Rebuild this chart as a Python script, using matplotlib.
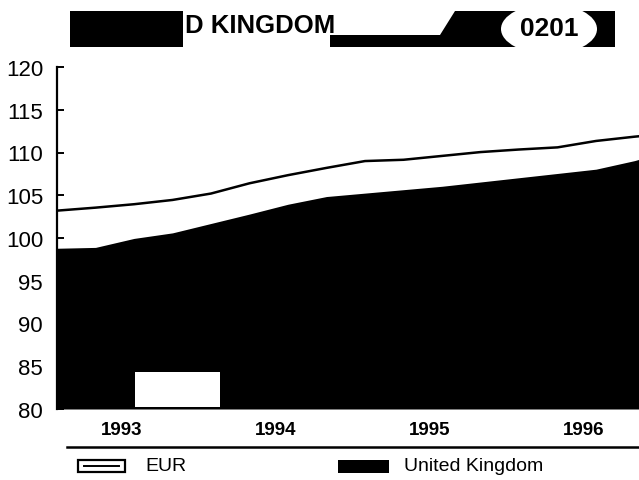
import matplotlib
matplotlib.use("Agg")
import matplotlib.pyplot as plt
from matplotlib.patches import Rectangle, Ellipse, Polygon

plt.rcParams['font.family'] = ['Liberation Sans', 'DejaVu Sans']

# ---------------- DATA ----------------
# decimal years, roughly quarterly (Feb 1993 .. Nov 1996)
t = [1993.083, 1993.333, 1993.583, 1993.833, 1994.083, 1994.333, 1994.583,
     1994.833, 1995.083, 1995.333, 1995.583, 1995.833, 1996.083, 1996.333,
     1996.583, 1996.833, 1996.862]
eur = [103.2, 103.55, 103.95, 104.45, 105.2, 106.4, 107.35, 108.2, 109.0,
       109.15, 109.6, 110.05, 110.35, 110.6, 111.35, 111.85, 111.9]
uk = [98.8, 98.9, 99.95, 100.6, 101.7, 102.8, 103.95, 104.85, 105.25,
      105.65, 106.05, 106.55, 107.05, 107.55, 108.05, 109.05, 109.2]
years = ["1993", "1994", "1995", "1996"]
year_pos = [1993.5, 1994.5, 1995.5, 1996.5]
yticks = [80, 85, 90, 95, 100, 105, 110, 115, 120]

# ---------------- FIGURE ----------------
W, H = 639, 481
fig = plt.figure(figsize=(W / 100, H / 100), dpi=100)
ax = fig.add_axes([57 / W, (H - 410) / H, (W - 57) / W, (410 - 68) / H])

ax.fill_between(t, uk, 80, color="black", lw=0)
ax.plot(t, eur, color="black", lw=1.8)

ax.set_xlim(t[0], t[-1])
ax.set_ylim(80, 120)
ax.set_yticks(yticks)
ax.set_xticks(year_pos)
ax.set_xticklabels(years, fontsize=13.5, fontweight="bold")
ax.tick_params(axis="y", direction="in", length=5, width=1.4, pad=10,
               labelsize=16)
ax.tick_params(axis="x", length=0, pad=9)
for s in ["top", "right", "bottom"]:
    ax.spines[s].set_visible(False)
ax.spines["left"].set_linewidth(1.6)

# ---------------- OVERLAY (header, legend, scan marks) ----------------
ov = fig.add_axes([0, 0, 1, 1], zorder=5)
ov.set_xlim(0, W)
ov.set_ylim(H, 0)
ov.axis("off")
ov.patch.set_alpha(0)

# header banner
ov.add_patch(Rectangle((70, 12), 113, 36, color="black", lw=0))
ov.text(185, 26, "D KINGDOM", fontsize=18.5, fontweight="bold",
        ha="left", va="center")
ov.add_patch(Polygon([(330, 36), (440, 36), (455, 12), (615, 12),
                      (615, 48), (330, 48)], closed=True, color="black", lw=0))
ov.add_patch(Ellipse((549, 30), 96, 50, color="white", lw=0))
ov.text(549, 29, "0201", fontsize=19, fontweight="bold",
        ha="center", va="center")

# white scan patch inside the fill
ov.add_patch(Rectangle((135, 373), 85, 35, color="white", lw=0))

# legend
ov.plot([67, 639], [448, 448], color="black", lw=1.8)
ov.add_patch(Rectangle((78, 461), 47, 12, fill=False, ec="black", lw=1.6))
ov.plot([84, 119], [467, 467], color="black", lw=1.4)
ov.text(145, 467, "EUR", fontsize=14, ha="left", va="center")
ov.add_patch(Rectangle((338, 461), 51, 13, color="black", lw=0))
ov.text(404, 467, "United Kingdom", fontsize=14, ha="left", va="center")

fig.savefig("out.png", dpi=100)
